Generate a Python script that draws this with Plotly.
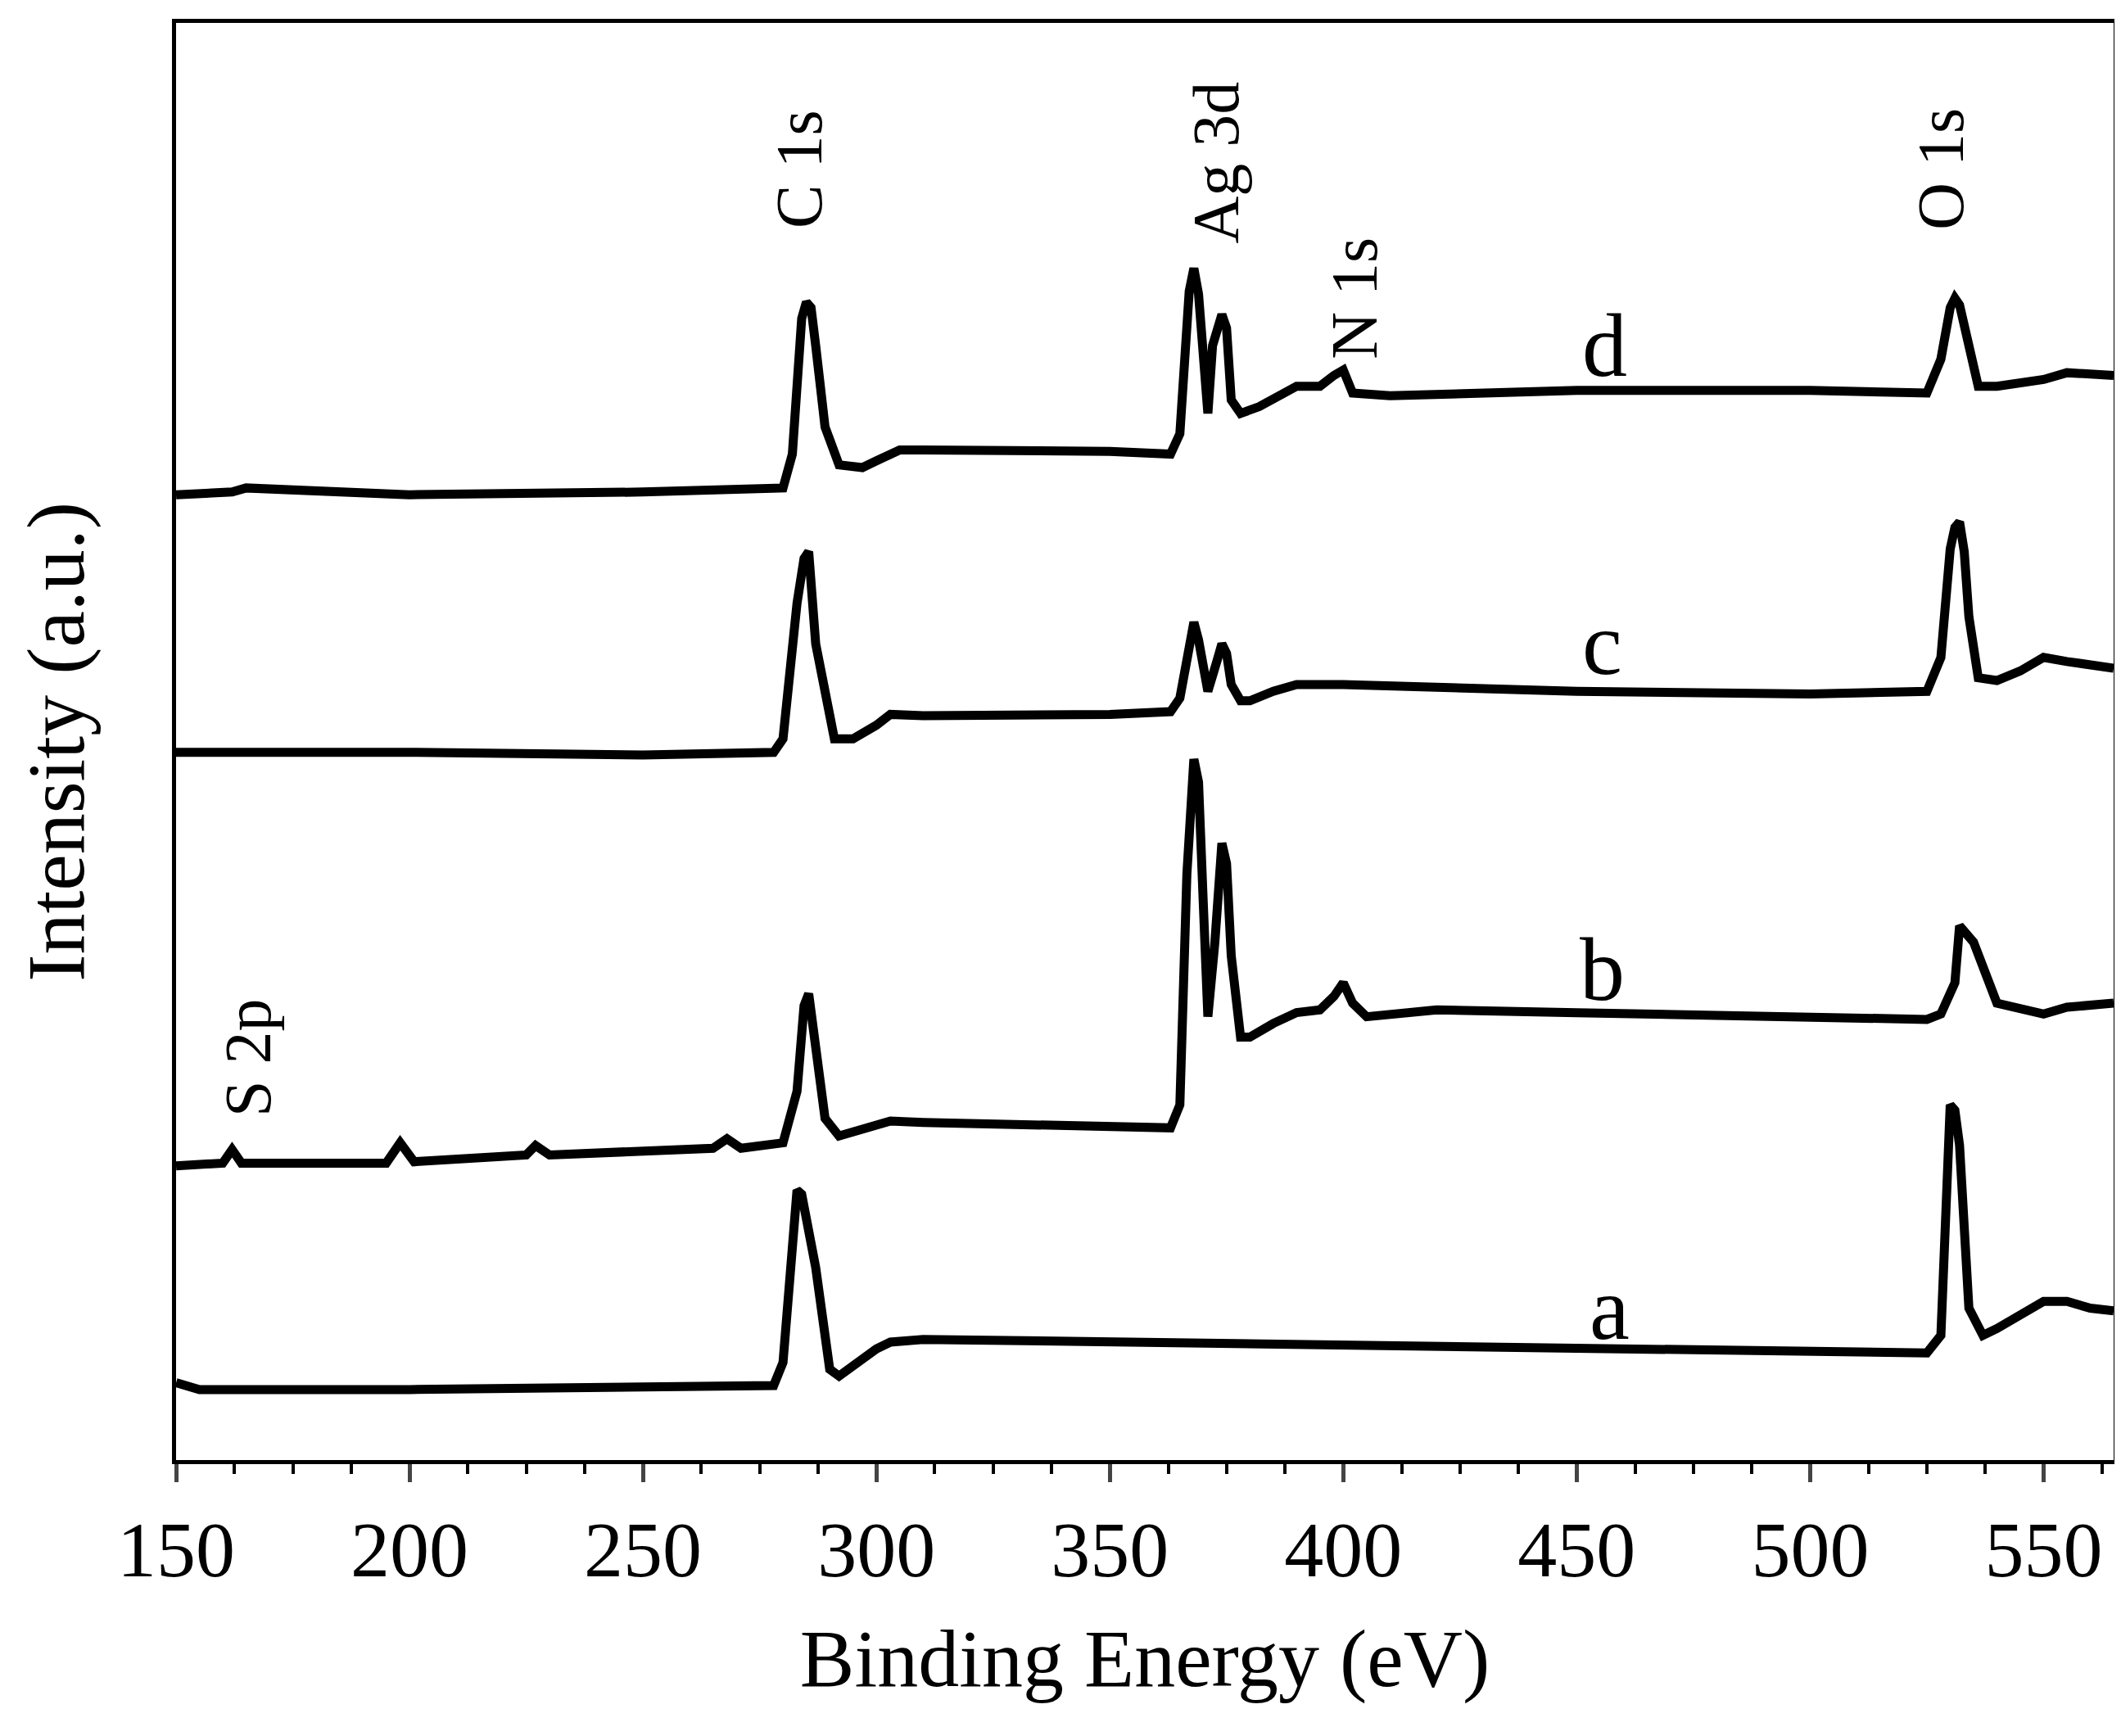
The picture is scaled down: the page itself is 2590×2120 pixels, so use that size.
import plotly.graph_objects as go

# Binding energy (eV) and intensity (a.u., arbitrary offset units) per spectrum
a_x = [150,152,155,200,250,278,280,282,283,284,285,287,290,292,300,303,310,350,400,450,500,525,528,529.5,530,531,532,534,537,540,545,550,555,560,565]
a_y = [57,55,52,52,53,55,72,170,199,196,180,142,67,62,82,87,89,87,84,82,79,79,92,240,262,258,232,112,92,97,107,117,117,112,110]

b_x = [150,160,162,164,195,198,201,225,227,230,265,268,271,280,283,284.5,285.5,287,289,292,300,303,310,350,363,365,366.5,368,369,370,371,372.5,374,375,376,378,380,385,390,395,398,400,402,405,410,420,450,500,525,528,531,532,533,535,540,550,555,565]
b_y = [217,219,229,219,219,234,220,225,232,225,230,237,230,234,272,335,344,302,252,239,246,250,249,246,245,262,432,517,500,412,327,382,455,440,372,312,312,322,330,332,342,352,337,327,329,332,330,327,325,329,352,394,390,382,337,329,334,337,335,335]

c_x = [150,200,250,278,280,283,284.5,285.5,287,289,291,295,300,303,310,350,363,365,367,368,369,370,371,373,374,375,376,378,380,385,390,400,450,500,525,528,530,531,532,533,534,536,540,545,550,555,565]
c_y = [522,522,520,522,532,632,665,670,602,567,532,532,542,550,549,550,552,562,605,618,605,582,567,590,602,595,572,560,560,567,572,572,567,565,567,592,672,688,692,670,622,577,575,582,592,589,584]

d_x = [150,162,165,200,250,280,282,284,285,286,287,289,292,297,300,305,310,350,363,365,367,368,369,370,371,372,374,375,376,378,382,390,395,398,400,402,410,450,500,525,528,530,531,532,534,536,540,550,555,565]
d_y = [712,714,717,712,714,717,742,842,854,850,822,762,734,732,737,745,745,744,742,757,862,879,860,802,772,822,845,835,782,772,777,792,792,800,804,787,785,789,789,787,812,850,857,852,822,792,792,797,802,800]

x_ticks = [150,200,250,300,350,400,450,500,550]

fig = go.Figure()
for xs, ys in [(a_x, a_y), (b_x, b_y), (c_x, c_y), (d_x, d_y)]:
    fig.add_trace(go.Scatter(x=xs, y=ys, mode="lines", line=dict(color="black", width=11), showlegend=False))

FONT = "Liberation Serif, Times New Roman, serif"
peak_labels = [("C 1s", 283.5, 952), ("Ag 3d", 372.6, 957), ("N 1s", 402.5, 857), ("O 1s", 528, 952), ("S 2p", 165.4, 297)]
for t, x, y in peak_labels:
    fig.add_annotation(x=x, y=y, text=t, textangle=-90, showarrow=False, font=dict(family=FONT, size=80, color="black"))
curve_labels = [("d", 456, 822), ("c", 455.5, 602), ("b", 455.5, 362), ("a", 457, 112)]
for t, x, y in curve_labels:
    fig.add_annotation(x=x, y=y, text=t, showarrow=False, font=dict(family=FONT, size=110, color="black"))
fig.add_annotation(xref="paper", yref="paper", x=-0.062, y=0.5, xanchor="center", yanchor="middle",
                   text="Intensity (a.u.)", textangle=-90, showarrow=False,
                   font=dict(family=FONT, size=100, color="black"))

fig.update_layout(
    width=2590, height=2120, plot_bgcolor="white", paper_bgcolor="white",
    margin=dict(l=207, r=15, t=20, b=345),
    font=dict(family=FONT, color="black"),
    xaxis=dict(range=[150, 565], tickvals=x_ticks, ticks="outside", ticklen=22, tickwidth=5,
               minor=dict(dtick=12.5, tick0=150, ticks="outside", ticklen=12, tickwidth=4, tickcolor="black"),
               showline=True, linewidth=5, linecolor="black", mirror=True, showgrid=False, zeroline=False,
               tickfont=dict(size=96), title=dict(text="Binding Energy (eV)", font=dict(size=100), standoff=45)),
    yaxis=dict(range=[0, 1060], showticklabels=False, ticks="", showline=True, linewidth=5, linecolor="black",
               mirror=True, showgrid=False, zeroline=False),
)
fig.write_html("out.html")
